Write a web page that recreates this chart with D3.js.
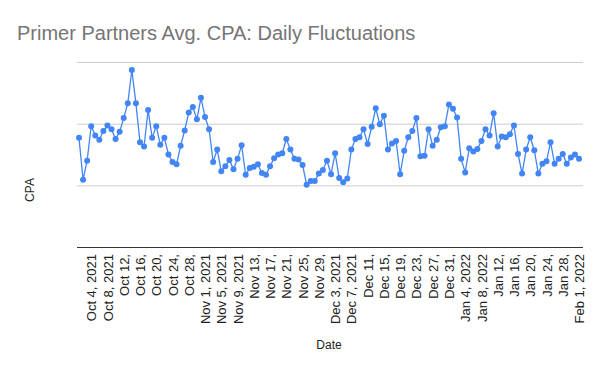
<!DOCTYPE html>
<html>
<head>
<meta charset="utf-8">
<script src="https://cdn.jsdelivr.net/npm/d3@7"></script>
<style>
  body { margin: 0; background: #fff; }
  svg { display: block; font-family: "Liberation Sans", Arial, sans-serif; }
</style>
</head>
<body>
<svg width="600" height="371"></svg>
<script>
  // daily average CPA, Oct 1 2021 .. Feb 1 2022 (gridline units)
  const startDate = '2021-10-01';
  const endDate = '2022-02-01';
  const cpaValues = [
    1.77, 1.09, 1.40, 1.96, 1.81, 1.74, 1.88, 1.97, 1.91, 1.75,
    1.87, 2.09, 2.33, 2.87, 2.33, 1.70, 1.63, 2.22, 1.77, 1.96,
    1.66, 1.77, 1.50, 1.38, 1.34, 1.64, 1.89, 2.18, 2.27, 2.07,
    2.42, 2.11, 1.91, 1.38, 1.58, 1.23, 1.31, 1.41, 1.26, 1.43,
    1.65, 1.17, 1.28, 1.30, 1.34, 1.20, 1.17, 1.31, 1.44, 1.50,
    1.52, 1.75, 1.58, 1.43, 1.42, 1.33, 1.01, 1.07, 1.07, 1.19,
    1.25, 1.40, 1.18, 1.52, 1.12, 1.05, 1.11, 1.58, 1.75, 1.78,
    1.91, 1.67, 1.95, 2.25, 1.99, 2.13, 1.58, 1.68, 1.72, 1.18,
    1.56, 1.78, 1.88, 2.09, 1.47, 1.48, 1.91, 1.64, 1.74, 1.94,
    1.96, 2.31, 2.24, 2.10, 1.43, 1.21, 1.60, 1.55, 1.59, 1.72,
    1.91, 1.81, 2.17, 1.63, 1.79, 1.78, 1.83, 1.97, 1.51, 1.19,
    1.58, 1.78, 1.57, 1.19, 1.35, 1.39, 1.70, 1.35, 1.43, 1.51,
    1.35, 1.45, 1.50, 1.43
  ];

  const tickDates = [
    '2021-10-04', '2021-10-08', '2021-10-12', '2021-10-16', '2021-10-20',
    '2021-10-24', '2021-10-28', '2021-11-01', '2021-11-05', '2021-11-09',
    '2021-11-13', '2021-11-17', '2021-11-21', '2021-11-25', '2021-11-29',
    '2021-12-03', '2021-12-07', '2021-12-11', '2021-12-15', '2021-12-19',
    '2021-12-23', '2021-12-27', '2021-12-31', '2022-01-04', '2022-01-08',
    '2022-01-12', '2022-01-16', '2022-01-20', '2022-01-24', '2022-01-28',
    '2022-02-01'
  ];
  const tickLabels = [
    'Oct 4, 2021', 'Oct 8, 2021', 'Oct 12,', 'Oct 16,', 'Oct 20,',
    'Oct 24,', 'Oct 28,', 'Nov 1, 2021', 'Nov 5, 2021', 'Nov 9, 2021',
    'Nov 13,', 'Nov 17,', 'Nov 21,', 'Nov 25,', 'Nov 29,',
    'Dec 3, 2021', 'Dec 7, 2021', 'Dec 11,', 'Dec 15,', 'Dec 19,',
    'Dec 23,', 'Dec 27,', 'Dec 31,', 'Jan 4, 2022', 'Jan 8, 2022',
    'Jan 12,', 'Jan 16,', 'Jan 20,', 'Jan 24,', 'Jan 28,',
    'Feb 1, 2022'
  ];
  const yTicks = [0, 1, 2, 3];

  const parseDate = d3.timeParse('%Y-%m-%d');

  const svg = d3.select('svg');
  const width = +svg.attr('width');
  const height = +svg.attr('height');

  const margin = { top: 62, right: 21, bottom: 124, left: 79 };
  const plotBottom = height - margin.bottom;

  const days = d3.timeDay.range(parseDate(startDate), d3.timeDay.offset(parseDate(endDate), 1));
  const data = days.map((d, i) => ({ date: d, value: cpaValues[i] }));

  const xScale = d3.scaleTime()
    .domain([parseDate(startDate), parseDate(endDate)])
    .range([margin.left, width - margin.right]);

  const yScale = d3.scaleLinear()
    .domain([0, 3])
    .range([plotBottom, margin.top]);

  // title
  svg.append('text')
    .attr('x', 17)
    .attr('y', 40)
    .attr('fill', '#757575')
    .attr('font-size', 20)
    .text('Primer Partners Avg. CPA: Daily Fluctuations');

  // horizontal gridlines (no labels)
  const yAxis = d3.axisLeft(yScale)
    .tickValues(yTicks)
    .tickSize(-(width - margin.right - margin.left + 6))
    .tickFormat('');

  svg.append('g')
    .attr('class', 'y-axis')
    .attr('transform', `translate(${margin.left - 2},0)`)
    .call(yAxis)
    .call(g => g.select('.domain').remove())
    .call(g => g.selectAll('line')
      .attr('stroke', d => d === 0 ? '#333' : '#ccc')
      .attr('stroke-width', 1));

  // x axis labels
  const xAxis = d3.axisBottom(xScale)
    .tickValues(tickDates.map(parseDate))
    .tickSize(0)
    .tickFormat((d, i) => tickLabels[i]);

  svg.append('g')
    .attr('class', 'x-axis')
    .attr('transform', `translate(0,${plotBottom})`)
    .call(xAxis)
    .call(g => g.select('.domain').remove())
    .call(g => g.selectAll('text')
      .attr('font-family', '"Liberation Sans", Arial, sans-serif')
      .attr('font-size', 13)
      .attr('fill', '#222')
      .attr('text-anchor', 'end')
      .attr('x', -7)
      .attr('y', 0)
      .attr('dy', '0.35em')
      .attr('transform', 'rotate(-90)'));

  // axis titles
  svg.append('text')
    .attr('x', (margin.left + width - margin.right) / 2)
    .attr('y', 349)
    .attr('text-anchor', 'middle')
    .attr('font-size', 12)
    .attr('fill', '#222')
    .text('Date');

  svg.append('text')
    .attr('transform', 'translate(34,190) rotate(-90)')
    .attr('text-anchor', 'middle')
    .attr('font-size', 12)
    .attr('fill', '#222')
    .text('CPA');

  // line + points
  const line = d3.line()
    .x(d => xScale(d.date))
    .y(d => yScale(d.value));

  svg.append('path')
    .datum(data)
    .attr('fill', 'none')
    .attr('stroke', '#4285f4')
    .attr('stroke-width', 1.3)
    .attr('d', line);

  svg.append('g')
    .selectAll('circle')
    .data(data)
    .enter().append('circle')
      .attr('cx', d => xScale(d.date))
      .attr('cy', d => yScale(d.value))
      .attr('r', 3)
      .attr('fill', '#4285f4');
</script>
</body>
</html>
